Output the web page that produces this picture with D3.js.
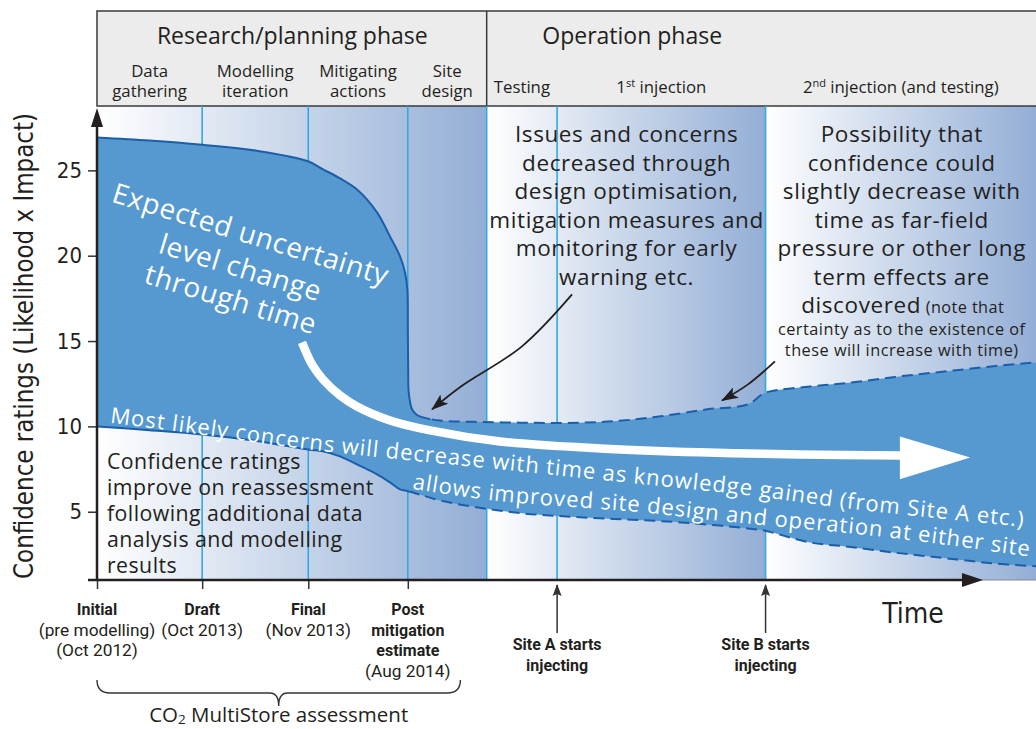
<!DOCTYPE html>
<html>
<head>
<meta charset="utf-8">
<script src="https://cdnjs.cloudflare.com/ajax/libs/d3/7.8.5/d3.min.js"></script>
<style>
  body { margin: 0; background: #fff; }
  svg { display: block; }
</style>
</head>
<body>
<svg id="chart" width="1036" height="729"></svg>
<script>
// ---- data (time is a schematic 0-100 scale, values are confidence ratings) ----
const stageEdges = [0, 11.2, 22.5, 33.1, 41.5, 49, 71.2, 100];
const stageLabels = [
  ["Data", "gathering"],
  ["Modelling", "iteration"],
  ["Mitigating", "actions"],
  ["Site", "design"],
  ["Testing"],
  ["1st injection"],
  ["2nd injection (and testing)"],
];
const phaseLabels = ["Research/planning phase", "Operation phase"];
const phaseLabelT = [20.8, 57];
const phaseSplit = 41.5;

// uncertainty band
const bandT = [0, 5.6, 11.2, 17, 22.47, 24.07, 25.88, 27.69, 29.82, 31.2, 32.27, 32.8, 33.05, 33.1, 33.14, 33.2,
  33.55, 34.08, 34.72, 36.53, 40, 45, 50, 55, 60, 65, 69.33, 70.82, 71.67, 75.93, 80, 85, 90, 95, 100];
const upperV = [26.93, 26.75, 26.5, 26.15, 25.53, 25.06, 24.53, 23.88, 22.54, 21.13, 19.96, 19.02, 18.02, 15.68, 13.34, 11.99,
  11.0, 10.67, 10.53, 10.34, 10.27, 10.22, 10.2, 10.3, 10.59, 11.0, 11.29, 11.87, 12.05, 12.34, 12.55, 12.9, 13.2, 13.5, 13.75];
const lowerV = [10, 9.78, 9.53, 9.15, 8.65, 8.54, 8.24, 7.77, 7.19, 6.72, 6.31, 6.24, 6.21, 6.2, 6.2, 6.19,
  6.14, 6.05, 5.95, 5.66, 5.3, 4.92, 4.72, 4.58, 4.45, 4.25, 4.02, 3.92, 3.82, 3.2, 2.95, 2.6, 2.3, 2.0, 1.8];
const upperDashFrom = 35.5;
const lowerDashFrom = 33.3;

// white trend arrow
const trendT = [21.83, 22.9, 24.07, 25.88, 27.69, 31.2, 35.46, 42.92, 53.57, 64.22, 74.87, 85.84];
const trendV = [14.92, 13.63, 12.75, 11.82, 11.17, 10.35, 9.77, 9.12, 8.71, 8.48, 8.36, 8.3];
const trendHeadT = [85.5, 93, 85.5];
const trendHeadV = [9.41, 8.18, 6.9];

// text along the band
const pathAT = [1.17, 10.97, 21.62, 32.27, 42.92, 57.29, 70.29, 79.77, 100.4];
const pathAV = [10.23, 9.53, 8.71, 8.07, 7.48, 6.66, 5.90, 5.20, 4.02];
const pathBT = [33.33, 42.17, 58.15, 66.88, 84.13, 99.9];
const pathBV = [6.37, 5.66, 4.96, 4.43, 3.50, 2.33];
const bandTextA = "Most likely concerns will decrease with time as knowledge gained (from Site A etc.)";
const bandTextB = "allows improved site design and operation at either site";

// black pointer arrows
const pointer1T = [50.59, 45.26, 38.76, 35.68];
const pointer1V = [17.73, 14.69, 12.34, 11.0];
const pointer2T = [72.2, 69.33, 66.56];
const pointer2V = [13.81, 12.46, 11.52];

const yTicks = [5, 10, 15, 20, 25];
const assessT = [0, 11.2, 22.5, 33.1];
const assessLabels = [
  [["Initial", 1], ["(pre modelling)", 0], ["(Oct 2012)", 0]],
  [["Draft", 1], ["(Oct 2013)", 0]],
  [["Final", 1], ["(Nov 2013)", 0]],
  [["Post", 1], ["mitigation", 1], ["estimate", 1], ["(Aug 2014)", 0]],
];
const siteT = [49, 71.2];
const siteLabels = [["Site A starts", "injecting"], ["Site B starts", "injecting"]];

const issuesText = ["Issues and concerns", "decreased through", "design optimisation,",
  "mitigation measures and", "monitoring for early", "warning etc."];
const possibilityText = ["Possibility that", "confidence could", "slightly decrease with",
  "time as far-field", "pressure or other long", "term effects are"];
const possibilityNote = ["certainty as to the existence of", "these will increase with time)"];
const improveText = ["Confidence ratings", "improve on reassessment", "following additional data",
  "analysis and modelling", "results"];
const expectedText = ["Expected uncertainty", "level change", "through time"];

// ---- layout ----
const plotLeft = 97, plotRight = 1036, plotTop = 106, plotBottom = 580, headerTop = 11;
const sans = "'Open Sans', 'Noto Sans', sans-serif";
const cond = "'Liberation Sans Narrow', 'DejaVu Sans Condensed', Roboto, sans-serif";
const rob = "Roboto, 'Open Sans', sans-serif";
const ink = "#231f20";

const svg = d3.select("#chart");
const defs = svg.append("defs");

const x = d3.scaleLinear().domain([0, 100]).range([plotLeft, plotRight]);
const y = d3.scaleLinear().domain([1, 28.8]).range([plotBottom, 105.5]);

// background gradients
const spans = [[0, phaseSplit], [phaseSplit, 71.2], [71.2, 100]];
spans.forEach((s, i) => {
  const g = defs.append("linearGradient").attr("id", "grad" + i)
    .attr("gradientUnits", "userSpaceOnUse")
    .attr("x1", x(s[0])).attr("x2", x(s[1])).attr("y1", 0).attr("y2", 0);
  g.append("stop").attr("offset", 0).attr("stop-color", "#ffffff");
  g.append("stop").attr("offset", 1).attr("stop-color", "#93aed6");
  svg.append("rect")
    .attr("x", x(s[0])).attr("y", plotTop)
    .attr("width", x(s[1]) - x(s[0])).attr("height", plotBottom - plotTop)
    .attr("fill", `url(#grad${i})`);
});

// header
svg.append("rect")
  .attr("x", plotLeft).attr("y", headerTop)
  .attr("width", plotRight - plotLeft + 10).attr("height", plotTop - headerTop)
  .attr("fill", "#ececec").attr("stroke", "#3a3a3a").attr("stroke-width", 1.5);
svg.append("line")
  .attr("x1", x(phaseSplit)).attr("x2", x(phaseSplit))
  .attr("y1", headerTop).attr("y2", plotTop)
  .attr("stroke", "#3a3a3a").attr("stroke-width", 1.5);

svg.selectAll(".phase").data(phaseLabels).enter().append("text")
  .attr("x", (d, i) => x(phaseLabelT[i])).attr("y", 44)
  .attr("text-anchor", "middle").attr("font-family", sans).attr("font-size", 23)
  .attr("fill", ink).text(d => d);

stageLabels.forEach((lines, i) => {
  const cx = (x(stageEdges[i]) + x(stageEdges[i + 1])) / 2;
  const t = svg.append("text").attr("text-anchor", "middle")
    .attr("font-family", sans).attr("font-size", 16.8).attr("fill", ink);
  if (lines.length === 2) {
    lines.forEach((l, j) => t.append("tspan").attr("x", cx).attr("y", 77 + j * 20).text(l));
  } else {
    const m = lines[0].match(/^(\d)(st|nd)(.*)$/);
    if (m) {
      t.append("tspan").text(m[1]).attr("x", cx).attr("y", 93);
      t.append("tspan").text(m[2]).attr("font-size", 11).attr("dy", -6);
      t.append("tspan").text(m[3]).attr("dy", 6);
    } else {
      t.append("tspan").attr("x", cx).attr("y", 93).text(lines[0]);
    }
  }
});

// stage lines
svg.selectAll(".stage").data(stageEdges.slice(1, -1)).enter().append("line")
  .attr("x1", d => x(d)).attr("x2", d => x(d))
  .attr("y1", plotTop).attr("y2", plotBottom)
  .attr("stroke", "#34a8e0").attr("stroke-width", 1.6);

// uncertainty band
const idx = d3.range(bandT.length);
const bandCurve = d3.curveCatmullRom.alpha(0.5);
const area = d3.area()
  .x(i => x(bandT[i])).y0(i => y(lowerV[i])).y1(i => y(upperV[i]))
  .curve(bandCurve);
svg.append("path").attr("d", area(idx)).attr("fill", "#5599d0");

const upperLine = d3.line().x(i => x(bandT[i])).y(i => y(upperV[i])).curve(bandCurve);
const lowerLine = d3.line().x(i => x(bandT[i])).y(i => y(lowerV[i])).curve(bandCurve);

function clip(id, x0, x1) {
  defs.append("clipPath").attr("id", id).append("rect")
    .attr("x", x0).attr("y", 0).attr("width", x1 - x0).attr("height", 729);
}
clip("upSolid", 0, x(upperDashFrom));
clip("upDash", x(upperDashFrom), 1100);
clip("loSolid", 0, x(lowerDashFrom));
clip("loDash", x(lowerDashFrom), 1100);

[[upperLine, "upSolid", null], [upperLine, "upDash", "11,6"],
 [lowerLine, "loSolid", null], [lowerLine, "loDash", "11,6"]].forEach(([gen, c, dash]) => {
  svg.append("path").attr("d", gen(idx)).attr("fill", "none")
    .attr("stroke", "#1b5ea9").attr("stroke-width", 2)
    .attr("stroke-dasharray", dash).attr("clip-path", `url(#${c})`);
});

// white trend arrow
const trendLine = d3.line().x(i => x(trendT[i])).y(i => y(trendV[i])).curve(d3.curveCatmullRom);
svg.append("path").attr("d", trendLine(d3.range(trendT.length)))
  .attr("fill", "none").attr("stroke", "#fff").attr("stroke-width", 8.5);
svg.append("path")
  .attr("d", d3.line().x(i => x(trendHeadT[i])).y(i => y(trendHeadV[i]))(d3.range(3)) + "Z")
  .attr("fill", "#fff");

// expected uncertainty text
const eg = svg.append("g")
  .attr("transform", `translate(${x(14.98)},${y(18.75)}) rotate(17)`);
eg.selectAll("text").data(expectedText).enter().append("text")
  .attr("x", 0).attr("y", (d, i) => [-35, 0, 33][i])
  .attr("text-anchor", "middle").attr("font-family", sans).attr("font-size", 28)
  .attr("letter-spacing", 0.6).attr("fill", "#fff").text(d => d);

// text along band, one word per text element
const pA = d3.line().x(i => x(pathAT[i])).y(i => y(pathAV[i])).curve(d3.curveCatmullRom);
const pB = d3.line().x(i => x(pathBT[i])).y(i => y(pathBV[i])).curve(d3.curveCatmullRom);
defs.append("path").attr("id", "pathA").attr("d", pA(d3.range(pathAT.length)));
defs.append("path").attr("id", "pathB").attr("d", pB(d3.range(pathBT.length)));

function bandWords(id, str, start) {
  const words = str.split(" ");
  const meas = svg.append("text").attr("font-family", sans).attr("font-size", 22)
    .attr("letter-spacing", 0.95).attr("visibility", "hidden");
  const len = s => { meas.text(s); return meas.node().getComputedTextLength(); };
  words.forEach((w, i) => {
    const pre = words.slice(0, i + 1).join(" ");
    const off = start + len(pre) - len(w);
    svg.append("text").attr("font-family", sans).attr("font-size", 22)
      .attr("letter-spacing", 0.95).attr("fill", "#fff")
      .append("textPath").attr("href", "#" + id).attr("startOffset", off).text(w);
  });
  meas.remove();
}
bandWords("pathA", bandTextA, 2);
bandWords("pathB", bandTextB, 2);

// confidence ratings improve text
svg.selectAll(".improve").data(improveText).enter().append("text")
  .attr("x", x(1.06)).attr("y", (d, i) => y(7.48) + i * 26)
  .attr("font-family", sans).attr("font-size", 21.3).attr("letter-spacing", 0.45)
  .attr("fill", ink).text(d => d);

// issues text
svg.selectAll(".issues").data(issuesText).enter().append("text")
  .attr("x", x(56.4)).attr("y", (d, i) => y(26.64) + i * 28.5)
  .attr("text-anchor", "middle").attr("font-family", sans).attr("font-size", 22.5)
  .attr("letter-spacing", 0.6).attr("fill", ink).text(d => d);

// possibility text
svg.selectAll(".poss").data(possibilityText).enter().append("text")
  .attr("x", x(85.7)).attr("y", (d, i) => y(26.64) + i * 28.5)
  .attr("text-anchor", "middle").attr("font-family", sans).attr("font-size", 22.5)
  .attr("letter-spacing", 0.6).attr("fill", ink).text(d => d);
const disc = svg.append("text").attr("x", x(85.8)).attr("y", y(26.64) + 6 * 28.5)
  .attr("text-anchor", "middle").attr("font-family", sans).attr("fill", ink);
disc.append("tspan").attr("font-size", 22.5).attr("letter-spacing", 0.6).text("discovered");
disc.append("tspan").attr("font-size", 16.3).attr("letter-spacing", 0.4).text(" (note that");
svg.selectAll(".note").data(possibilityNote).enter().append("text")
  .attr("x", x(85.7)).attr("y", (d, i) => y(26.64) + 6 * 28.5 + 22 + i * 21)
  .attr("text-anchor", "middle").attr("font-family", sans).attr("font-size", 16.3)
  .attr("letter-spacing", 0.5).attr("fill", ink).text(d => d);

// pointer arrows
defs.append("marker").attr("id", "blackHead")
  .attr("markerUnits", "userSpaceOnUse").attr("markerWidth", 18).attr("markerHeight", 12)
  .attr("refX", 16).attr("refY", 6).attr("orient", "auto")
  .append("path").attr("d", "M0,0 L17,6 L0,12 L4,6 Z").attr("fill", ink);
defs.append("marker").attr("id", "smallHead")
  .attr("markerUnits", "userSpaceOnUse").attr("markerWidth", 12).attr("markerHeight", 10)
  .attr("refX", 11).attr("refY", 5).attr("orient", "auto")
  .append("path").attr("d", "M0,0.5 L12,5 L0,9.5 L2,5 Z").attr("fill", "#333");

[[pointer1T, pointer1V], [pointer2T, pointer2V]].forEach(([ts, vs]) => {
  const ln = d3.line().x(i => x(ts[i])).y(i => y(vs[i])).curve(d3.curveCatmullRom);
  svg.append("path").attr("d", ln(d3.range(ts.length)))
    .attr("fill", "none").attr("stroke", ink).attr("stroke-width", 1.8)
    .attr("marker-end", "url(#blackHead)");
});

// axes
const yAxis = d3.axisLeft(y).tickValues(yTicks).tickSize(9).tickPadding(6);
const gy = svg.append("g").attr("transform", `translate(${plotLeft},0)`).call(yAxis);
gy.select(".domain").remove();
gy.selectAll(".tick line").attr("stroke", "#333").attr("stroke-width", 1.5);
gy.selectAll(".tick text").attr("font-family", cond).attr("font-size", 22).attr("fill", ink);

const xAxis = d3.axisBottom(x).tickValues(assessT).tickSize(9).tickFormat("");
const gx = svg.append("g").attr("transform", `translate(0,${plotBottom})`).call(xAxis);
gx.select(".domain").remove();
gx.selectAll(".tick line").attr("stroke", "#333").attr("stroke-width", 1.5);

svg.append("line").attr("x1", 975).attr("x2", plotRight)
  .attr("y1", plotBottom).attr("y2", plotBottom).attr("stroke", "#888").attr("stroke-width", 1);
svg.append("line").attr("x1", 88).attr("x2", 965)
  .attr("y1", plotBottom).attr("y2", plotBottom).attr("stroke", ink).attr("stroke-width", 2.5);
svg.append("path").attr("d", `M962,573 L983,${plotBottom} L962,587 Z`).attr("fill", ink);
svg.append("line").attr("x1", plotLeft).attr("x2", plotLeft)
  .attr("y1", plotBottom + 1).attr("y2", 122).attr("stroke", ink).attr("stroke-width", 2.5);
svg.append("path").attr("d", `M${plotLeft - 6},127 L${plotLeft},108 L${plotLeft + 6},127 Z`).attr("fill", ink);

svg.append("text")
  .attr("transform", "translate(33,346) rotate(-90)")
  .attr("text-anchor", "middle").attr("font-family", cond).attr("font-size", 27)
  .attr("textLength", 466).attr("lengthAdjust", "spacingAndGlyphs")
  .attr("fill", ink).text("Confidence ratings (Likelihood x Impact)");

svg.append("text").attr("x", x(86.9)).attr("y", 623)
  .attr("text-anchor", "middle").attr("font-family", cond).attr("font-size", 28)
  .attr("fill", ink).text("Time");

// assessment labels
assessLabels.forEach((lines, i) => {
  const t = svg.append("text").attr("text-anchor", "middle")
    .attr("font-family", rob).attr("fill", ink);
  lines.forEach(([s, b], j) => {
    t.append("tspan").attr("x", x(assessT[i])).attr("y", 615 + j * 20.6)
      .attr("font-size", b ? 16 : 17.3).attr("font-weight", b ? 700 : 400).text(s);
  });
});

// site markers
siteT.forEach((s, i) => {
  svg.append("line").attr("x1", x(s)).attr("x2", x(s)).attr("y1", 633).attr("y2", 585)
    .attr("stroke", "#333").attr("stroke-width", 1.5).attr("marker-end", "url(#smallHead)");
  const t = svg.append("text").attr("text-anchor", "middle")
    .attr("font-family", rob).attr("font-size", 16).attr("font-weight", 700).attr("fill", ink);
  siteLabels[i].forEach((l, j) => t.append("tspan").attr("x", x(s)).attr("y", 650 + j * 21).text(l));
});

// brace
const bx0 = x(0), bx1 = x(38.7), bm = (bx0 + bx1) / 2;
svg.append("path")
  .attr("d", `M${bx0},680 Q${bx0},693 ${bx0 + 13},693 L${bm - 9},693 Q${bm},693 ${bm},706 ` +
    `Q${bm},693 ${bm + 9},693 L${bx1 - 13},693 Q${bx1},693 ${bx1},680`)
  .attr("fill", "none").attr("stroke", "#333").attr("stroke-width", 1.4);
const co = svg.append("text").attr("x", bm).attr("y", 722).attr("text-anchor", "middle")
  .attr("font-family", sans).attr("font-size", 20.5).attr("fill", ink);
co.append("tspan").text("CO");
co.append("tspan").attr("font-size", 13.5).attr("dy", 2).text("2");
co.append("tspan").attr("dy", -2).text(" MultiStore assessment");
</script>
</body>
</html>
